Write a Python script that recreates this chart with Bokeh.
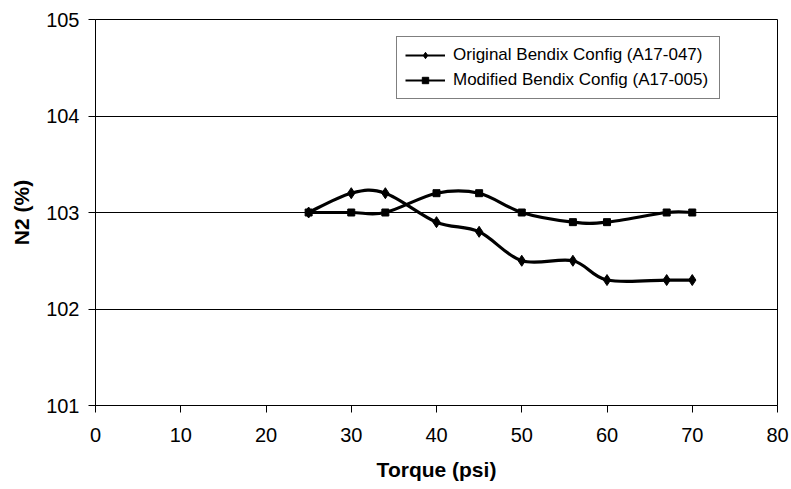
from bokeh.plotting import figure
from bokeh.models import Range1d, FixedTicker, Legend, LegendItem, ColumnDataSource
from bokeh.embed import file_html
from bokeh.resources import INLINE

# ---- data ----
torque_orig = [25, 30, 34, 40, 45, 50, 56, 60, 67, 70]
n2_orig = [103.0, 103.2, 103.2, 102.9, 102.8, 102.5, 102.5, 102.3, 102.3, 102.3]
torque_mod = [25, 30, 34, 40, 45, 50, 56, 60, 67, 70]
n2_mod = [103.0, 103.0, 103.0, 103.2, 103.2, 103.0, 102.9, 102.9, 103.0, 103.0]
label_orig = "Original Bendix Config (A17-047)"
label_mod = "Modified Bendix Config (A17-005)"
x_ticks = [0, 10, 20, 30, 40, 50, 60, 70, 80]
y_ticks = [101, 102, 103, 104, 105]

FONT = "Liberation Sans"
NAN = float("nan")


def smooth_segments(xs, ys):
    """Catmull-Rom style smoothing expressed as cubic Bezier segments (rendering only)."""
    n = len(xs)
    d = dict(x0=[], y0=[], x1=[], y1=[], cx0=[], cy0=[], cx1=[], cy1=[])
    for i in range(n - 1):
        i0 = max(i - 1, 0)
        i3 = min(i + 2, n - 1)
        d["x0"].append(xs[i]); d["y0"].append(ys[i])
        d["x1"].append(xs[i + 1]); d["y1"].append(ys[i + 1])
        d["cx0"].append(xs[i] + (xs[i + 1] - xs[i0]) / 6.0)
        d["cy0"].append(ys[i] + (ys[i + 1] - ys[i0]) / 6.0)
        d["cx1"].append(xs[i + 1] - (xs[i3] - xs[i]) / 6.0)
        d["cy1"].append(ys[i + 1] - (ys[i3] - ys[i]) / 6.0)
    return ColumnDataSource(d)


p = figure(width=790, height=488, output_backend="svg", toolbar_location=None,
           x_range=Range1d(0, 80), y_range=Range1d(101, 105),
           min_border_left=95, min_border_right=13, min_border_top=19, min_border_bottom=83)
p.background_fill_color = "white"
p.border_fill_color = "white"
p.outline_line_color = "black"
p.outline_line_width = 1

# grid
p.xgrid.grid_line_color = None
p.ygrid.grid_line_color = "black"
p.ygrid.grid_line_width = 1

# axes
p.xaxis.ticker = FixedTicker(ticks=x_ticks)
p.yaxis.ticker = FixedTicker(ticks=y_ticks)
for ax in (p.xaxis[0], p.yaxis[0]):
    ax.axis_line_color = "black"
    ax.major_tick_line_color = "black"
    ax.major_tick_in = 0
    ax.major_tick_out = 7
    ax.minor_tick_line_color = None
    ax.major_label_text_font = FONT
    ax.major_label_text_font_size = "20px"
    ax.major_label_text_color = "black"
    ax.axis_label_text_font = FONT
    ax.axis_label_text_font_size = "21px"
    ax.axis_label_text_font_style = "bold"
    ax.axis_label_text_color = "black"
p.xaxis.axis_label = "Torque (psi)"
p.yaxis.axis_label = "N2 (%)"
p.xaxis.major_label_standoff = 15
p.xaxis.axis_label_standoff = 13
p.yaxis.major_label_standoff = 9
p.yaxis.axis_label_standoff = 10

# smoothed lines
src_o = smooth_segments(torque_orig, n2_orig)
src_m = smooth_segments(torque_mod, n2_mod)
p.bezier(x0="x0", y0="y0", x1="x1", y1="y1", cx0="cx0", cy0="cy0", cx1="cx1", cy1="cy1",
         source=src_o, line_color="black", line_width=3.2)
p.bezier(x0="x0", y0="y0", x1="x1", y1="y1", cx0="cx0", cy0="cy0", cx1="cx1", cy1="cy1",
         source=src_m, line_color="black", line_width=3.2)

# markers
sc_o = p.scatter(torque_orig, n2_orig, marker="diamond", size=11, fill_color="black", line_color="black")
sc_m = p.scatter(torque_mod, n2_mod, marker="square", size=7, fill_color="black", line_color="black")

# legend proxies (a single NaN point: nothing drawn in the plot, only in the legend)
lg_o = p.line(x=[NAN], y=[NAN], line_color="black", line_width=2)
lg_m = p.line(x=[NAN], y=[NAN], line_color="black", line_width=2)
lgs_o = p.scatter(x=[NAN], y=[NAN], marker="diamond", size=7, fill_color="black", line_color="black")
lgs_m = p.scatter(x=[NAN], y=[NAN], marker="square", size=5, fill_color="black", line_color="black")

legend = Legend(items=[LegendItem(label=label_orig, renderers=[lg_o, lgs_o], index=0),
                       LegendItem(label=label_mod, renderers=[lg_m, lgs_m], index=0)],
                location=(301, 306), orientation="vertical",
                glyph_width=40, glyph_height=16, label_height=16, label_standoff=8,
                label_width=258,
                spacing=5, padding=8, margin=0,
                label_text_font=FONT, label_text_font_size="17px", label_text_color="black",
                border_line_color="black", border_line_width=1,
                background_fill_color="white", background_fill_alpha=1.0)
p.add_layout(legend, "center")

open("out.html", "w").write(file_html(p, INLINE))
